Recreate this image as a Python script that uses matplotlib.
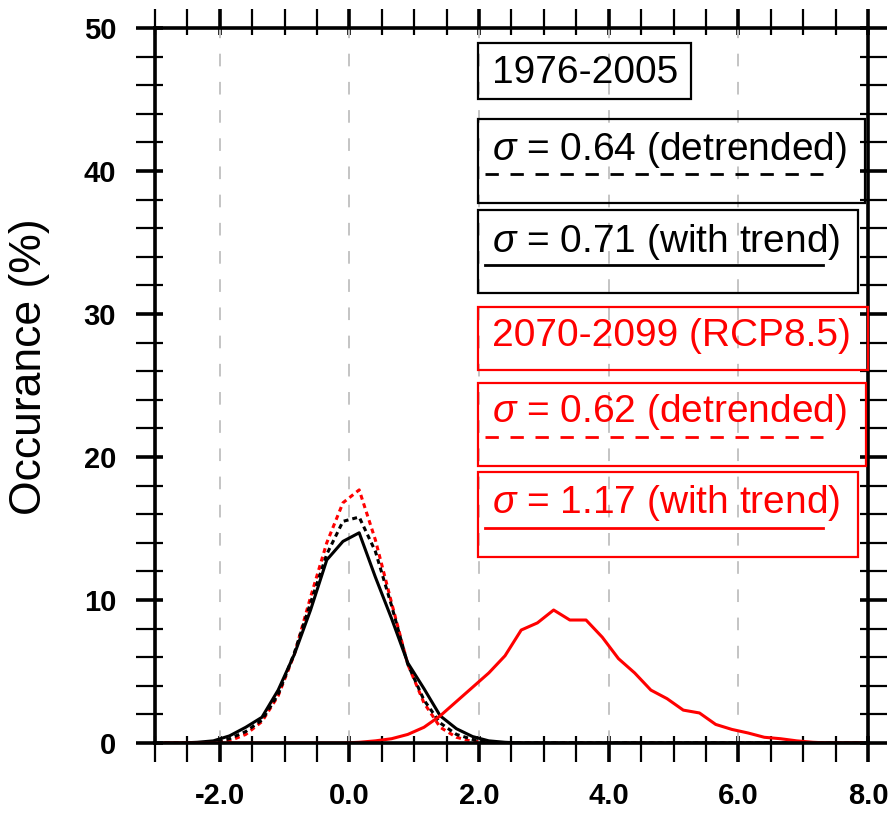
# coding=utf-8
import matplotlib
matplotlib.use("Agg")
import matplotlib.pyplot as plt
from matplotlib.lines import Line2D
from matplotlib.patches import Rectangle
from matplotlib.ticker import MultipleLocator, FormatStrFormatter

plt.rcParams["font.family"] = ["Liberation Sans", "DejaVu Sans"]
plt.rcParams["mathtext.fontset"] = "custom"
plt.rcParams["mathtext.it"] = "Liberation Sans:italic"
plt.rcParams["mathtext.rm"] = "Liberation Sans"
plt.rcParams["axes.unicode_minus"] = False

# bin centres (anomaly, K)
bins = [-2.85, -2.6, -2.35, -2.1, -1.85, -1.6, -1.35, -1.1, -0.85, -0.6, -0.35,
        -0.1, 0.15, 0.4, 0.65, 0.9, 1.15, 1.4, 1.65, 1.9, 2.15, 2.4, 2.65, 2.9,
        3.15, 3.4, 3.65, 3.9, 4.15, 4.4, 4.65, 4.9, 5.15, 5.4, 5.65, 5.9, 6.15,
        6.4, 6.65, 6.9, 7.15, 7.4, 7.65, 7.9]

# 1976-2005, with trend
hist_trend = [0, 0, 0.05, 0.15, 0.5, 1.1, 1.8, 3.7, 6.2, 9.3, 12.8,
              14.1, 14.7, 11.6, 8.7, 5.6, 3.8, 1.9, 1.0, 0.45, 0.15, 0.05, 0, 0,
              0, 0, 0, 0, 0, 0, 0, 0, 0, 0, 0, 0, 0,
              0, 0, 0, 0, 0, 0, 0]
# 1976-2005, detrended
hist_detr = [0, 0, 0, 0.05, 0.3, 0.8, 1.6, 3.4, 6.3, 9.8, 13.2,
             15.5, 15.8, 13.4, 9.6, 5.5, 3.0, 1.4, 0.6, 0.25, 0.05, 0, 0, 0,
             0, 0, 0, 0, 0, 0, 0, 0, 0, 0, 0, 0, 0,
             0, 0, 0, 0, 0, 0, 0]
# 2070-2099 RCP8.5, detrended
rcp_detr = [0, 0, 0, 0.05, 0.15, 0.6, 1.5, 3.3, 6.2, 10.2, 14.0,
            16.8, 17.7, 14.2, 9.8, 5.5, 2.8, 1.1, 0.4, 0.1, 0.05, 0, 0, 0,
            0, 0, 0, 0, 0, 0, 0, 0, 0, 0, 0, 0, 0,
            0, 0, 0, 0, 0, 0, 0]
# 2070-2099 RCP8.5, with trend
rcp_trend = [0, 0, 0, 0, 0, 0, 0, 0, 0, 0, 0,
             0, 0.05, 0.15, 0.3, 0.6, 1.1, 1.9, 2.9, 3.9, 4.9, 6.1, 7.9, 8.4,
             9.3, 8.6, 8.6, 7.4, 5.9, 4.9, 3.7, 3.1, 2.3, 2.1, 1.3, 0.95, 0.7,
             0.4, 0.3, 0.15, 0.05, 0, 0, 0]

legend_labels = ["1976-2005",
                 r"$\sigma$ = 0.64 (detrended)",
                 r"$\sigma$ = 0.71 (with trend)",
                 "2070-2099 (RCP8.5)",
                 r"$\sigma$ = 0.62 (detrended)",
                 r"$\sigma$ = 1.17 (with trend)"]

W, H = 895, 815


def fx(px):
    return px / W


def fy(py):
    return 1 - py / H


fig = plt.figure(figsize=(8.95, 8.15), dpi=100)
ax = fig.add_axes([fx(155), fy(743), fx(868) - fx(155), fy(28) - fy(743)])

dash = (0, (1.6, 1.3))
ax.plot(bins, rcp_detr, color="#ff0000", lw=2.2, linestyle=dash, zorder=3)
ax.plot(bins, hist_detr, color="black", lw=2.2, linestyle=dash, zorder=3)
ax.plot(bins, hist_trend, color="black", lw=2.2, zorder=4)
ax.plot(bins, rcp_trend, color="#ff0000", lw=2.2, zorder=4)

ax.set_xlim(-3, 8)
ax.set_ylim(0, 50)
ax.set_xticks([-2, 0, 2, 4, 6, 8])
ax.xaxis.set_minor_locator(MultipleLocator(0.5))
ax.yaxis.set_major_locator(MultipleLocator(10))
ax.yaxis.set_minor_locator(MultipleLocator(2))
ax.xaxis.set_major_formatter(FormatStrFormatter("%.1f"))
ax.xaxis.grid(True, which="major", color="#c4c4c4", lw=1.4,
              linestyle=(0, (6.5, 8)))
ax.set_axisbelow(True)

for s in ax.spines.values():
    s.set_linewidth(2.6)
    s.set_zorder(6)

ax.tick_params(which="both", direction="out", length=14, top=True, right=True,
               labelsize=21)
ax.tick_params(which="major", width=2.6)
ax.tick_params(which="minor", width=1.6)
ax.tick_params(axis="x", pad=14)
ax.tick_params(axis="y", pad=14)
for lab in ax.get_xticklabels() + ax.get_yticklabels():
    lab.set_fontweight("bold")

# short inner part of the ticks
for loc in ("bottom", "top"):
    sec = ax.secondary_xaxis(loc)
    sec.set_xticks([-2, 0, 2, 4, 6, 8])
    sec.xaxis.set_minor_locator(MultipleLocator(0.5))
    sec.tick_params(which="both", direction="in", length=5,
                    labelbottom=False, labeltop=False)
    sec.tick_params(which="major", width=2.6)
    sec.tick_params(which="minor", width=1.6)
for loc in ("left", "right"):
    sec = ax.secondary_yaxis(loc)
    sec.yaxis.set_major_locator(MultipleLocator(10))
    sec.yaxis.set_minor_locator(MultipleLocator(2))
    sec.tick_params(which="both", direction="in", length=6,
                    labelleft=False, labelright=False)
    sec.tick_params(which="major", width=2.6)
    sec.tick_params(which="minor", width=1.6)

ax.set_ylabel("Occurance (%)", fontsize=32)
ax.yaxis.set_label_coords(-0.147, 0.526)

# legend boxes drawn by hand, NCL style
boxes = [(478, 43, 691, 99), (478, 119, 865, 203), (478, 210, 858, 293),
         (478, 307, 868, 370), (478, 383, 866, 466), (478, 472, 858, 557)]
baselines = [83, 160, 252, 346, 422, 513]
colors = ["black", "black", "black", "#ff0000", "#ff0000", "#ff0000"]
samples = {1: (174, dash), 2: (265, "-"), 4: (437, dash), 5: (528, "-")}

for i, (x0, y0, x1, y1) in enumerate(boxes):
    c = colors[i]
    fig.patches.append(Rectangle((fx(x0), fy(y1)), fx(x1 - x0), (y1 - y0) / H,
                                 transform=fig.transFigure, fill=False,
                                 edgecolor=c, lw=1.6, zorder=7))
    fig.text(fx(492), fy(baselines[i]), legend_labels[i], color=c,
             fontsize=28, ha="left", va="baseline", zorder=8)
    if i in samples:
        yy, ls = samples[i]
        if ls == "-":
            fig.lines.append(Line2D([fx(485), fx(823)], [fy(yy), fy(yy)],
                                    transform=fig.transFigure, color=c,
                                    lw=2.0, zorder=8))
        else:
            fig.lines.append(Line2D([fx(485), fx(823)], [fy(yy), fy(yy)],
                                    transform=fig.transFigure, color=c,
                                    lw=2.0, linestyle=(0, (4.8, 4.2)),
                                    zorder=8))

fig.savefig("out.png", dpi=100)
